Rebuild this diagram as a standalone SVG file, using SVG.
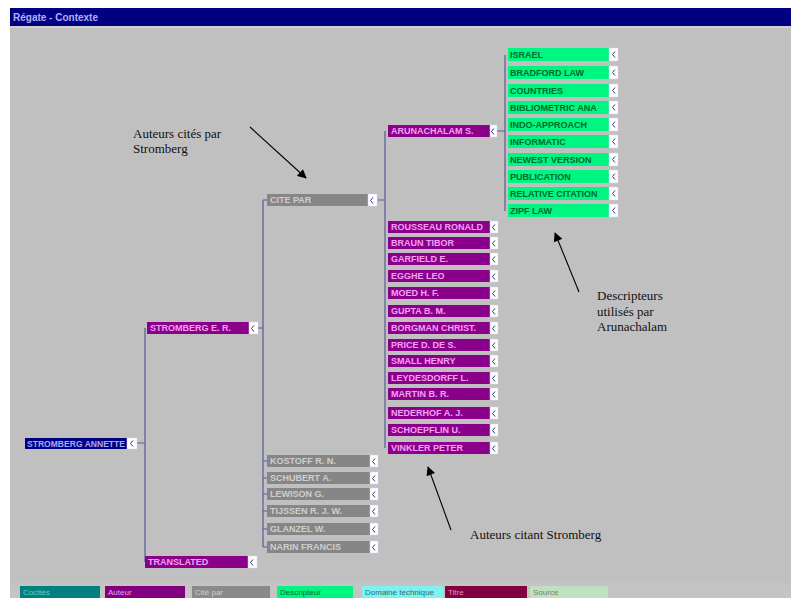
<svg xmlns="http://www.w3.org/2000/svg" width="791" height="598" viewBox="0 0 791 598">
<style>
.nt{font-family:"Liberation Sans",Arial,sans-serif;font-size:9px;font-weight:bold}
.pu rect.b{fill:#8b008b}.pu text{fill:#f5a0f5}
.gr rect.b{fill:#868686}.gr text{fill:#cfcfcf}
.gn rect.b{fill:#00f581}.gn text{fill:#006a30}
.bl rect.b{fill:#000080}.bl text{fill:#a8a8ff}
rect.w{fill:#ffffff;stroke:#d0d0e8;stroke-width:0.5}
path.c{fill:none;stroke:#5a5a96;stroke-width:1.2}
.cap{font-family:"Liberation Serif","Times New Roman",serif;font-size:13px;fill:#111}
.ar{stroke:#000;stroke-width:1.1;fill:none}
.lg{font-family:"Liberation Sans",Arial,sans-serif;font-size:8px}
</style>
<defs>
<marker id="ah" viewBox="0 0 10 10" refX="9" refY="5" markerWidth="11" markerHeight="9" markerUnits="userSpaceOnUse" orient="auto"><path d="M0,0L10,5L0,10z" fill="#000"/></marker>
<g id="chev"><path d="M5,2.5L2.5,5.5L5,8.5" fill="none" stroke="#303080" stroke-width="1"/></g>
</defs>
<rect x="0" y="0" width="791" height="598" fill="#ffffff"/>
<rect x="10" y="8" width="781" height="590" fill="#c0c0c0"/>
<rect x="10" y="8" width="781" height="18" fill="#000080"/>
<text x="13" y="21" font-family="Liberation Sans,Arial,sans-serif" font-size="10" font-weight="bold" fill="#b0b0ff">Régate - Contexte</text>
<rect x="10" y="26" width="781" height="2" fill="#d0d0d0"/>

<g id="connectors">
<path class="c" d="M137,443H145M145,328V562"/>
<path class="c" d="M258,328H263M263,200V547M263,200H267M263,461H267M263,478H267M263,494H267M263,511H267M263,529H267M263,547H267"/>
<path class="c" d="M378,200H385M385,131V448"/>
<path class="c" d="M497,131H505M505,55V211"/>
</g>

<g id="root" class="nt bl"><rect class="b" x="25" y="438" width="102" height="11"/><rect class="w" x="127" y="438" width="10" height="11"/><use href="#chev" x="128" y="438"/><text x="27" y="447" textLength="98" lengthAdjust="spacingAndGlyphs">STROMBERG ANNETTE</text></g>

<g id="n-strom" class="nt pu"><rect class="b" x="147" y="322" width="102" height="12"/><rect class="w" x="249" y="322" width="9" height="12"/><use href="#chev" x="249" y="323"/><text x="150" y="331">STROMBERG E. R.</text></g>
<g id="n-bottom" class="nt pu"><rect class="b" x="145" y="556" width="103" height="12"/><rect class="w" x="248" y="556" width="9" height="12"/><use href="#chev" x="248" y="557"/><text x="148" y="565">TRANSLATED</text></g>

<g id="n-grey" class="nt gr"><rect class="b" x="267" y="194" width="101" height="12"/><rect class="w" x="368" y="194" width="9" height="12"/><use href="#chev" x="368" y="195"/><text x="270" y="203">CITE PAR</text></g>

<g id="grey-list" class="nt gr">
<g id="g1"><rect class="b" x="267" y="455" width="103" height="12"/><rect class="w" x="370" y="455" width="8" height="12"/><use href="#chev" x="370" y="456"/><text x="270" y="464">KOSTOFF R. N.</text></g>
<g id="g2"><rect class="b" x="267" y="472" width="103" height="12"/><rect class="w" x="370" y="472" width="8" height="12"/><use href="#chev" x="370" y="473"/><text x="270" y="481">SCHUBERT A.</text></g>
<g id="g3"><rect class="b" x="267" y="488" width="103" height="12"/><rect class="w" x="370" y="488" width="8" height="12"/><use href="#chev" x="370" y="489"/><text x="270" y="497">LEWISON G.</text></g>
<g id="g4"><rect class="b" x="267" y="505" width="103" height="12"/><rect class="w" x="370" y="505" width="8" height="12"/><use href="#chev" x="370" y="506"/><text x="270" y="514">TIJSSEN R. J. W.</text></g>
<g id="g5"><rect class="b" x="267" y="523" width="103" height="12"/><rect class="w" x="370" y="523" width="8" height="12"/><use href="#chev" x="370" y="524"/><text x="270" y="532">GLANZEL W.</text></g>
<g id="g6"><rect class="b" x="267" y="541" width="103" height="12"/><rect class="w" x="370" y="541" width="8" height="12"/><use href="#chev" x="370" y="542"/><text x="270" y="550">NARIN FRANCIS</text></g>
</g>

<g id="n-arun" class="nt pu"><rect class="b" x="388" y="125" width="102" height="12"/><rect class="w" x="490" y="125" width="7" height="12"/><use href="#chev" x="489" y="126"/><text x="391" y="134">ARUNACHALAM S.</text></g>

<g id="purple-list" class="nt pu">
<g id="p1"><rect class="b" x="388" y="221" width="102" height="12"/><rect class="w" x="490" y="221" width="8" height="12"/><use href="#chev" x="490" y="222"/><text x="391" y="230">ROUSSEAU RONALD</text></g>
<g id="p2"><rect class="b" x="388" y="237" width="102" height="12"/><rect class="w" x="490" y="237" width="8" height="12"/><use href="#chev" x="490" y="238"/><text x="391" y="246">BRAUN TIBOR</text></g>
<g id="p3"><rect class="b" x="388" y="253" width="102" height="12"/><rect class="w" x="490" y="253" width="8" height="12"/><use href="#chev" x="490" y="254"/><text x="391" y="262">GARFIELD E.</text></g>
<g id="p4"><rect class="b" x="388" y="270" width="102" height="12"/><rect class="w" x="490" y="270" width="8" height="12"/><use href="#chev" x="490" y="271"/><text x="391" y="279">EGGHE LEO</text></g>
<g id="p5"><rect class="b" x="388" y="287" width="102" height="12"/><rect class="w" x="490" y="287" width="8" height="12"/><use href="#chev" x="490" y="288"/><text x="391" y="296">MOED H. F.</text></g>
<g id="p6"><rect class="b" x="388" y="305" width="102" height="12"/><rect class="w" x="490" y="305" width="8" height="12"/><use href="#chev" x="490" y="306"/><text x="391" y="314">GUPTA B. M.</text></g>
<g id="p7"><rect class="b" x="388" y="322" width="102" height="12"/><rect class="w" x="490" y="322" width="8" height="12"/><use href="#chev" x="490" y="323"/><text x="391" y="331">BORGMAN CHRIST.</text></g>
<g id="p8"><rect class="b" x="388" y="339" width="102" height="12"/><rect class="w" x="490" y="339" width="8" height="12"/><use href="#chev" x="490" y="340"/><text x="391" y="348">PRICE D. DE S.</text></g>
<g id="p9"><rect class="b" x="388" y="355" width="102" height="12"/><rect class="w" x="490" y="355" width="8" height="12"/><use href="#chev" x="490" y="356"/><text x="391" y="364">SMALL HENRY</text></g>
<g id="p10"><rect class="b" x="388" y="372" width="102" height="12"/><rect class="w" x="490" y="372" width="8" height="12"/><use href="#chev" x="490" y="373"/><text x="391" y="381">LEYDESDORFF L.</text></g>
<g id="p11"><rect class="b" x="388" y="388" width="102" height="12"/><rect class="w" x="490" y="388" width="8" height="12"/><use href="#chev" x="490" y="389"/><text x="391" y="397">MARTIN B. R.</text></g>
<g id="p12"><rect class="b" x="388" y="407" width="102" height="12"/><rect class="w" x="490" y="407" width="8" height="12"/><use href="#chev" x="490" y="408"/><text x="391" y="416">NEDERHOF A. J.</text></g>
<g id="p13"><rect class="b" x="388" y="424" width="102" height="12"/><rect class="w" x="490" y="424" width="8" height="12"/><use href="#chev" x="490" y="425"/><text x="391" y="433">SCHOEPFLIN U.</text></g>
<g id="p14"><rect class="b" x="388" y="442" width="102" height="12"/><rect class="w" x="490" y="442" width="8" height="12"/><use href="#chev" x="490" y="443"/><text x="391" y="451">VINKLER PETER</text></g>
</g>

<g id="green-list" class="nt gn">
<g id="d1"><rect class="b" x="508" y="48" width="101" height="13"/><rect class="w" x="609" y="48" width="9" height="13"/><use href="#chev" x="610" y="49"/><text x="510" y="58">ISRAEL</text></g>
<g id="d2"><rect class="b" x="508" y="66" width="101" height="13"/><rect class="w" x="609" y="66" width="9" height="13"/><use href="#chev" x="610" y="67"/><text x="510" y="76">BRADFORD LAW</text></g>
<g id="d3"><rect class="b" x="508" y="84" width="101" height="13"/><rect class="w" x="609" y="84" width="9" height="13"/><use href="#chev" x="610" y="85"/><text x="510" y="94">COUNTRIES</text></g>
<g id="d4"><rect class="b" x="508" y="101" width="101" height="13"/><rect class="w" x="609" y="101" width="9" height="13"/><use href="#chev" x="610" y="102"/><text x="510" y="111">BIBLIOMETRIC ANA</text></g>
<g id="d5"><rect class="b" x="508" y="118" width="101" height="13"/><rect class="w" x="609" y="118" width="9" height="13"/><use href="#chev" x="610" y="119"/><text x="510" y="128">INDO-APPROACH</text></g>
<g id="d6"><rect class="b" x="508" y="135" width="101" height="13"/><rect class="w" x="609" y="135" width="9" height="13"/><use href="#chev" x="610" y="136"/><text x="510" y="145">INFORMATIC</text></g>
<g id="d7"><rect class="b" x="508" y="153" width="101" height="13"/><rect class="w" x="609" y="153" width="9" height="13"/><use href="#chev" x="610" y="154"/><text x="510" y="163">NEWEST VERSION</text></g>
<g id="d8"><rect class="b" x="508" y="170" width="101" height="13"/><rect class="w" x="609" y="170" width="9" height="13"/><use href="#chev" x="610" y="171"/><text x="510" y="180">PUBLICATION</text></g>
<g id="d9"><rect class="b" x="508" y="187" width="101" height="13"/><rect class="w" x="609" y="187" width="9" height="13"/><use href="#chev" x="610" y="188"/><text x="510" y="197">RELATIVE CITATION</text></g>
<g id="d10"><rect class="b" x="508" y="204" width="101" height="13"/><rect class="w" x="609" y="204" width="9" height="13"/><use href="#chev" x="610" y="205"/><text x="510" y="214">ZIPF LAW</text></g>
</g>

<g id="annotations">
<text class="cap" x="133" y="138">Auteurs cités par</text>
<text class="cap" x="133" y="153">Stromberg</text>
<line class="ar" x1="250" y1="127" x2="306" y2="178" marker-end="url(#ah)"/>
<text class="cap" x="597" y="300">Descripteurs</text>
<text class="cap" x="597" y="316">utilisés par</text>
<text class="cap" x="597" y="331">Arunachalam</text>
<line class="ar" x1="579" y1="292" x2="555" y2="233" marker-end="url(#ah)"/>
<text class="cap" x="470" y="539">Auteurs citant Stromberg</text>
<line class="ar" x1="451" y1="530" x2="428" y2="467" marker-end="url(#ah)"/>
</g>

<g id="legend" class="lg">
<rect x="10" y="583" width="781" height="15" fill="#c4c4c4"/>
<rect x="20" y="586" width="80" height="12" fill="#008080"/><text x="23" y="595" fill="#60d0d0">Cocités</text>
<rect x="105" y="586" width="80" height="12" fill="#800080"/><text x="108" y="595" fill="#f0a0f0">Auteur</text>
<rect x="192" y="586" width="78" height="12" fill="#8a8a8a"/><text x="195" y="595" fill="#d0d0d0">Cité par</text>
<rect x="277" y="586" width="76" height="12" fill="#00f581"/><text x="280" y="595" fill="#006a30">Descripteur</text>
<rect x="362" y="586" width="81" height="12" fill="#80f0f0"/><text x="365" y="595" fill="#207070">Domaine technique</text>
<rect x="445" y="586" width="82" height="12" fill="#800040"/><text x="448" y="595" fill="#f090b0">Titre</text>
<rect x="530" y="586" width="78" height="12" fill="#c0e0c0"/><text x="533" y="595" fill="#708070">Source</text>
</g>
</svg>
